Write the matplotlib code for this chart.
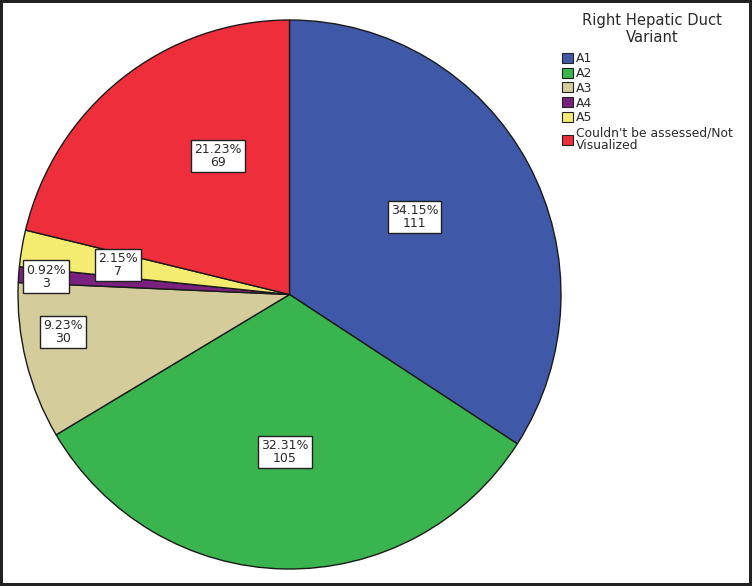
import numpy as np
import matplotlib.pyplot as plt
from matplotlib.patches import Patch

# data
labels = ['A1', 'A2', 'A3', 'A4', 'A5', "Couldn't be assessed/Not\nVisualized"]
counts = [111, 105, 30, 3, 7, 69]
pcts = ['34.15%', '32.31%', '9.23%', '0.92%', '2.15%', '21.23%']
colors = ['#3F58A8', '#3AB44E', '#D5CC9B', '#7A2180', '#F4EC70', '#EE2F3B']
# label placement: fraction of radius, and angle nudge from the slice middle
lab_r = [0.54, 0.575, 0.845, 0.90, 0.64, 0.57]
lab_da = [3, -0.6, -4.9, 0, 0, -10.7]

W, H = 752, 586
fig = plt.figure(figsize=(W / 100, H / 100), dpi=100)
fig.patch.set_edgecolor('#222222')
fig.patch.set_linewidth(3)

# pie axes, placed in pixels
x0, x1, y0, y1 = 18, 561, 20, 569
ax = fig.add_axes([x0 / W, 1 - y1 / H, (x1 - x0) / W, (y1 - y0) / H])
wedges, _ = ax.pie(counts, colors=colors, startangle=90, counterclock=False,
                   wedgeprops=dict(edgecolor='#1a1a1a', linewidth=1.0))
ax.set_aspect('auto')
ax.set_xlim(-1, 1)
ax.set_ylim(-1, 1)
ax.axis('off')

for w, p, n, r, da in zip(wedges, pcts, counts, lab_r, lab_da):
    ang = np.deg2rad((w.theta1 + w.theta2) / 2 + da)
    ax.text(r * np.cos(ang), r * np.sin(ang), f'{p}\n{n}', ha='center', va='center',
            fontsize=9, linespacing=1.0, color='#2a2a2a',
            bbox=dict(boxstyle='square,pad=0.25', fc='white', ec='#222222', lw=1.0))

# legend title drawn separately so the gap matches
fig.text(652 / W, 1 - 29 / H, 'Right Hepatic Duct\nVariant', ha='center', va='center',
         fontsize=10.6, linespacing=1.1, color='#2a2a2a')

handles = [Patch(facecolor=c, edgecolor='#222222', linewidth=0.8) for c in colors]
leg = fig.legend(handles, labels, loc='upper left',
                 bbox_to_anchor=(562 / W, 1 - 52 / H),
                 frameon=False, fontsize=8.9,
                 handlelength=0.9, handleheight=0.85, handletextpad=0.25,
                 labelspacing=0.15, borderaxespad=0, borderpad=0)
for t in leg.get_texts():
    t.set_color('#2a2a2a')
    t.set_linespacing(0.95)

fig.savefig('out.png', dpi=100)
